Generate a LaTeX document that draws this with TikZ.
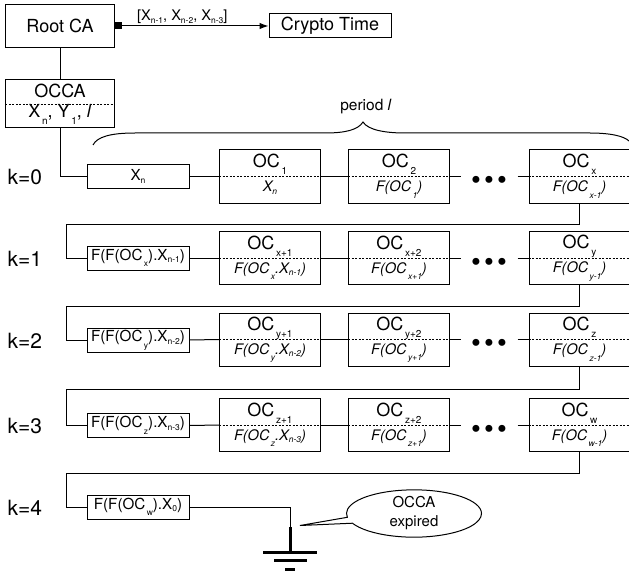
\documentclass[tikz,border=0pt]{standalone}
\usepackage{fontspec}
\setmainfont{TeX Gyre Heros}
\usetikzlibrary{arrows.meta,shapes.callouts}

\newcommand{\bigsub}[1]{\raisebox{-7bp}{\fontsize{10bp}{10bp}\selectfont\,#1}}
\newcommand{\itsub}[1]{\raisebox{-6.5bp}{\fontsize{8.5bp}{10bp}\selectfont\,#1}}
\newcommand{\lowx}[1]{\raisebox{-2.5bp}{\fontsize{8.5bp}{10bp}\selectfont #1}}
\newcommand{\oclines}[2]{\rule{0pt}{13bp}#1\\\rule[-7bp]{0pt}{7bp}{\fontsize{14.5bp}{24bp}\selectfont\itshape #2}}
\newcommand{\threedots}{\makebox[13bp]{\textbullet}\makebox[13bp]{\textbullet}\makebox[13bp]{\textbullet}}

\begin{document}
\begin{tikzpicture}[
  x=1bp, y=-1bp,
  line width=1bp,
  font=\fontsize{18bp}{24bp}\selectfont,
  box/.style={draw, minimum width=108bp, minimum height=43bp, inner sep=0pt, align=center},
  keybox/.style={draw, minimum width=102bp, minimum height=24bp, inner sep=0pt, font=\fontsize{15.2bp}{18bp}\selectfont},
  ocbox/.style={draw, minimum width=101bp, minimum height=53bp, inner sep=0pt, align=center},
  rowlabel/.style={anchor=base west, inner sep=0pt, font=\fontsize{21bp}{24bp}\selectfont},
  dotsrow/.style={minimum width=56bp, inner sep=0pt, text height=26.8bp, text depth=0bp, font=\fontsize{28bp}{24bp}\selectfont},
  divider/.style={line width=0.8bp, dash pattern=on 2bp off 1.5bp},
  arr/.style={{Square[length=7bp,width=7bp]}-{Latex[length=9bp,width=6.5bp]}},
  thickline/.style={line width=3bp}
]
\useasboundingbox (0,0) rectangle (629,576);

% Root CA and crypto time
\node[box] (rootca) at (60,26) {Root CA};
\node[draw, minimum width=122bp, minimum height=24bp, inner sep=0pt] (crypto) at (330,26) {Crypto Time};
\draw[arr] (rootca.east) -- node[pos=0.44, above=0.5bp, inner sep=1bp, font=\fontsize{14.6bp}{18bp}\selectfont] (keys) {[X\lowx{n-1}, X\lowx{n-2}, X\lowx{n-3}]} (crypto.west);

% OCCA
\node[box, minimum height=48bp] (occa) at (60,104) {\rule{0pt}{13bp}OCCA\\[-4bp]\rule[-7bp]{0pt}{7bp}X\bigsub{n}, Y\bigsub{1}, \textit{l}};
\draw[divider] (occa.west) -- (occa.east);
\draw (rootca.south) -- (occa.north);

% Period brace
\draw (93,145) .. controls (97,137) and (110,133) .. (135,133) -- (325,133)
  .. controls (345,133) and (358,130) .. (363,122)
  .. controls (368,130) and (385,133) .. (405,133) -- (590,133)
  .. controls (610,133) and (624,136) .. (629,141);
\node[font=\fontsize{15.5bp}{16bp}\selectfont] (period) at (366,107) {period \textit{l}};

% Row labels
\node[rowlabel] (k0) at (7,185) {k=0};
\node[rowlabel] (k1) at (7,266.5) {k=1};
\node[rowlabel] (k2) at (7,348) {k=2};
\node[rowlabel] (k3) at (7,433) {k=3};
\node[rowlabel] (k4) at (7,515) {k=4};

% k=0
\node[keybox] (key0) at (138,176.5) {X\lowx{n}};
\node[ocbox] (oc01) at (270,176.5) {\oclines{OC\bigsub{1}}{X\lowx{n}}};
\node[ocbox] (oc02) at (399,176.5) {\oclines{OC\bigsub{2}}{F(OC\itsub{1})}};
\node[dotsrow] (dots0) at (489,176.5) {\threedots};
\node[ocbox] (oc0x) at (579.5,176.5) {\oclines{OC\bigsub{x}}{F(OC\itsub{x-1})}};

% k=1
\node[keybox] (key1) at (138,258) {F(F(OC\itsub{x}).X\lowx{n-1})};
\node[ocbox] (oc11) at (270,258) {\oclines{OC\bigsub{x+1}}{F(OC\itsub{x}.X\lowx{n-1})}};
\node[ocbox] (oc12) at (399,258) {\oclines{OC\bigsub{x+2}}{F(OC\itsub{x+1})}};
\node[dotsrow] (dots1) at (489,258) {\threedots};
\node[ocbox] (oc1y) at (579.5,258) {\oclines{OC\bigsub{y}}{F(OC\itsub{y-1})}};

% k=2
\node[keybox] (key2) at (138,340) {F(F(OC\itsub{y}).X\lowx{n-2})};
\node[ocbox] (oc21) at (270,339.5) {\oclines{OC\bigsub{y+1}}{F(OC\itsub{y}.X\lowx{n-2})}};
\node[ocbox] (oc22) at (399,339.5) {\oclines{OC\bigsub{y+2}}{F(OC\itsub{y+1})}};
\node[dotsrow] (dots2) at (489,339.5) {\threedots};
\node[ocbox] (oc2z) at (579.5,339.5) {\oclines{OC\bigsub{z}}{F(OC\itsub{z-1})}};

% k=3
\node[keybox] (key3) at (138,425.5) {F(F(OC\itsub{z}).X\lowx{n-3})};
\node[ocbox] (oc31) at (270,425) {\oclines{OC\bigsub{z+1}}{F(OC\itsub{z}.X\lowx{n-3})}};
\node[ocbox] (oc32) at (399,425) {\oclines{OC\bigsub{z+2}}{F(OC\itsub{z+1})}};
\node[dotsrow] (dots3) at (489,425) {\threedots};
\node[ocbox] (oc3w) at (579.5,425) {\oclines{OC\bigsub{w}}{F(OC\itsub{w-1})}};

% k=4
\node[keybox] (key4) at (138,507) {F(F(OC\itsub{w}).X\lowx{0})};

% Dotted dividers
\draw[divider] (oc01.west) -- (oc01.east);
\draw[divider] (oc02.west) -- (oc02.east);
\draw[divider] (oc0x.west) -- (oc0x.east);
\draw[divider] (oc11.west) -- (oc11.east);
\draw[divider] (oc12.west) -- (oc12.east);
\draw[divider] (oc1y.west) -- (oc1y.east);
\draw[divider] (oc21.west) -- (oc21.east);
\draw[divider] (oc22.west) -- (oc22.east);
\draw[divider] (oc2z.west) -- (oc2z.east);
\draw[divider] (oc31.west) -- (oc31.east);
\draw[divider] (oc32.west) -- (oc32.east);
\draw[divider] (oc3w.west) -- (oc3w.east);

% Links along the rows
\draw (occa.south) |- (key0.west);
\draw (key0.east) -- (oc01.west);
\draw (oc01.east) -- (oc02.west);
\draw (oc02.east) -- (dots0.west);
\draw (dots0.east) -- (oc0x.west);
\draw (key1.east) -- (oc11.west);
\draw (oc11.east) -- (oc12.west);
\draw (oc12.east) -- (dots1.west);
\draw (dots1.east) -- (oc1y.west);
\draw (key2.east) -- (oc21.west);
\draw (oc21.east) -- (oc22.west);
\draw (oc22.east) -- (dots2.west);
\draw (dots2.east) -- (oc2z.west);
\draw (key3.east) -- (oc31.west);
\draw (oc31.east) -- (oc32.west);
\draw (oc32.east) -- (dots3.west);
\draw (dots3.east) -- (oc3w.west);

% Returns to the next row
\coordinate (back1) at (66,224);
\coordinate (back2) at (66,306);
\coordinate (back3) at (66,389.5);
\coordinate (back4) at (66,473);
\draw (oc0x.south) |- (back1) |- (key1.west);
\draw (oc1y.south) |- (back2) |- (key2.west);
\draw (oc2z.south) |- (back3) |- (key3.west);
\draw (oc3w.south) |- (back4) |- (key4.west);

% Ground
\coordinate (gnd) at (290,527);
\coordinate (gndbase) at (290,552);
\draw (key4.east) -| (gnd);
\draw[thickline] (gnd) -- (gndbase);
\draw[thickline] (263,552) -- (317,552);
\draw[thickline] (274,560) -- (307,560);
\draw[thickline] (285,569) -- (295,569);

% Callout
\node[ellipse callout, draw, minimum width=135bp, minimum height=43bp, inner sep=0pt, align=center,
  callout absolute pointer={(300,525.5)}, font=\fontsize{15bp}{19bp}\selectfont] (expired) at (414,513.5) {OCCA\\expired};
\end{tikzpicture}
\end{document}
